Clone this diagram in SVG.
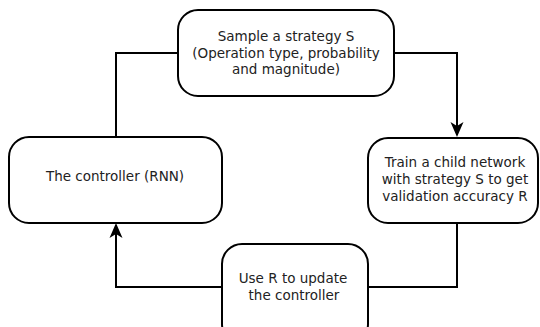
<svg xmlns="http://www.w3.org/2000/svg" width="540" height="327" viewBox="0 0 540 327">
<defs>
<style>
.box{fill:#fff;stroke:#000;stroke-width:2}
.lbl{font-family:"DejaVu Sans",sans-serif;font-size:13.5px;fill:#222;text-anchor:middle}
.conn{fill:none;stroke:#000;stroke-width:2}
.head{fill:#000}
</style>
</defs>
<rect width="540" height="327" fill="#fff"/>
<g id="connectors">
<path class="conn" d="M116,137 V53 H178"/>
<path class="conn" d="M394,53 H457 V135"/>
<path class="conn" d="M457,223 V287 H368"/>
<path class="conn" d="M222,287 H116 V225"/>
<path class="head" d="M457,137 L450.5,122 L457,126 L463.5,122 Z"/>
<path class="head" d="M116,223 L109.5,238 L116,234 L122.5,238 Z"/>
</g>
<g id="sample">
<rect class="box" x="178" y="10" width="216" height="86" rx="20"/>
<text class="lbl" x="286" y="41">Sample a strategy S</text>
<text class="lbl" x="286" y="57.5">(Operation type, probability</text>
<text class="lbl" x="286" y="74">and magnitude)</text>
</g>
<g id="train">
<rect class="box" x="368" y="138" width="170" height="85" rx="20"/>
<text class="lbl" x="455" y="167">Train a child network</text>
<text class="lbl" x="455" y="184">with strategy S to get</text>
<text class="lbl" x="455" y="201">validation accuracy R</text>
</g>
<g id="controller">
<rect class="box" x="9" y="137" width="213" height="86" rx="20"/>
<text class="lbl" x="115" y="181">The controller (RNN)</text>
</g>
<g id="update">
<rect class="box" x="222" y="244" width="146" height="100" rx="20"/>
<text class="lbl" x="293" y="283">Use R to update</text>
<text class="lbl" x="294" y="299.5">the controller</text>
</g>
</svg>
